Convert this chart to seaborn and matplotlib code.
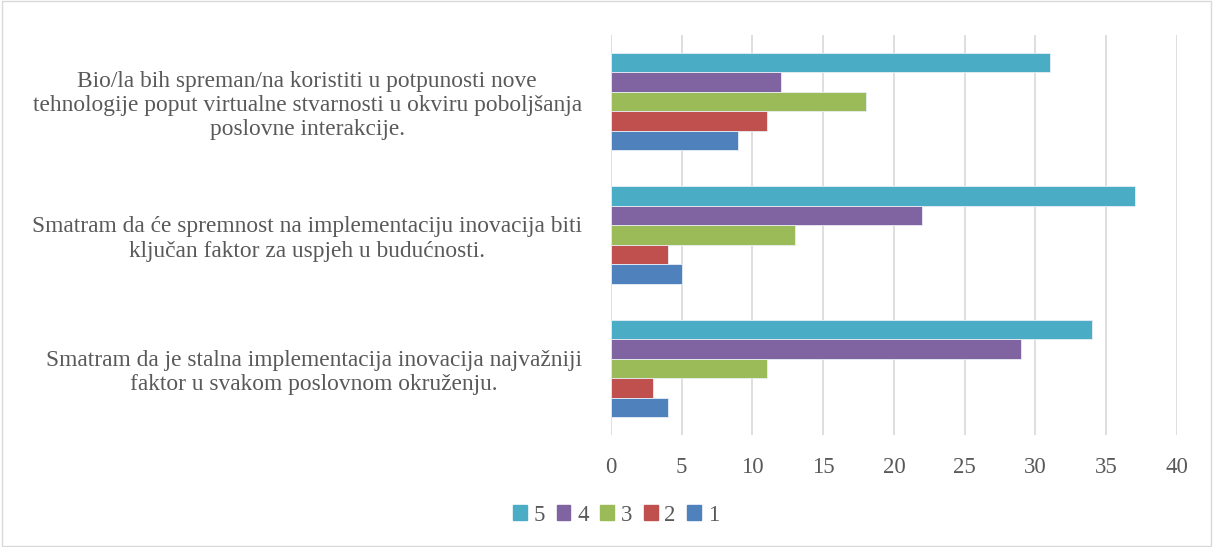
import numpy as np
import pandas as pd
import matplotlib
matplotlib.use('Agg')
import matplotlib.pyplot as plt
import seaborn as sns

# statements (categories), top to bottom
statements = [
    'Bio/la bih spreman/na koristiti u potpunosti nove\ntehnologije poput virtualne stvarnosti u okviru poboljšanja\nposlovne interakcije.',
    'Smatram da će spremnost na implementaciju inovacija biti\nključan faktor za uspjeh u budućnosti.',
    'Smatram da je stalna implementacija inovacija najvažniji\nfaktor u svakom poslovnom okruženju.',
]
grades = ['5', '4', '3', '2', '1']
# counts per grade, one value per statement
grade_5 = [31, 37, 34]
grade_4 = [12, 22, 29]
grade_3 = [18, 13, 11]
grade_2 = [11, 4, 3]
grade_1 = [9, 5, 4]
colors = ['#4BACC6', '#8064A2', '#9BBB59', '#C0504D', '#4F81BD']

# long table for seaborn
rows = []
for g, vals in zip(grades, [grade_5, grade_4, grade_3, grade_2, grade_1]):
    for s, v in zip(statements, vals):
        rows.append({'statement': s, 'grade': g, 'count': v})
df = pd.DataFrame(rows)

sns.set_style('white')
plt.rcParams['font.family'] = ['Liberation Serif', 'DejaVu Serif']
text_color = '#595959'

fig = plt.figure(figsize=(12.13, 5.47), dpi=100)
ax = fig.add_axes([0.5037, 0.2048, 0.4666, 0.7312])

sns.barplot(data=df, y='statement', x='count', hue='grade', order=statements,
            hue_order=grades, palette=colors, orient='h', width=0.73,
            edgecolor='#e8eef5', linewidth=0.6, saturation=1, ax=ax, zorder=3)

ax.set_xlim(0, 40)
ax.set_ylim(2.5, -0.5)
ax.set_xticks(np.arange(0, 41, 5))
ax.grid(axis='x', color='#d9d9d9', linewidth=1.2, zorder=0)
ax.set_axisbelow(True)
for sp in ax.spines.values():
    sp.set_visible(False)
ax.tick_params(axis='x', length=0, pad=16, labelsize=16.5, labelcolor=text_color)
ax.tick_params(axis='y', length=0, pad=21, labelsize=16.8, labelcolor=text_color)
for lbl in ax.get_yticklabels():
    lbl.set_multialignment('center')
    lbl.set_linespacing(1.2)
ax.set_xlabel('')
ax.set_ylabel('')

ax.legend_.remove()
handles = [plt.Rectangle((0, 0), 1, 1, color=c) for c in colors]
fig.legend(handles, grades, loc='center', bbox_to_anchor=(0.508, 0.058), ncol=5,
           frameon=False, fontsize=16.5, handlelength=0.6, handleheight=0.6,
           handletextpad=0.3, columnspacing=0.5, labelcolor=text_color)

# light border around the chart area
fig.patches.append(plt.Rectangle((0.002, 0.002), 0.996, 0.996, transform=fig.transFigure,
                                 fill=False, edgecolor='#d9d9d9', linewidth=1))

fig.savefig('out.png', dpi=100)
